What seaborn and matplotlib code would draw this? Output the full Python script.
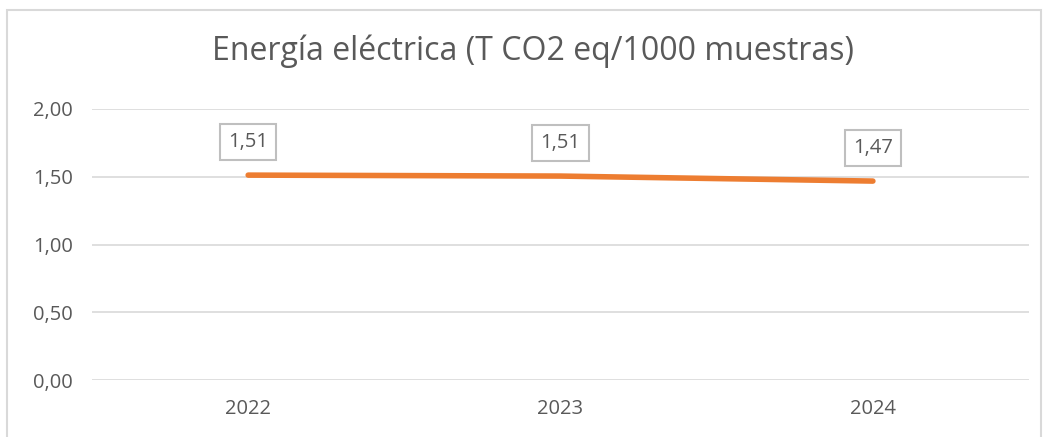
import matplotlib
matplotlib.use("Agg")
import matplotlib.pyplot as plt
import matplotlib.patches as patches
import seaborn as sns
import pandas as pd

years = ["2022", "2023", "2024"]
values = [1.512, 1.505, 1.468]
labels = ["1,51", "1,51", "1,47"]
yticks = [0.0, 0.5, 1.0, 1.5, 2.0]

sns.set_style("white")
plt.rcParams["font.family"] = ["Open Sans", "DejaVu Sans"]

df = pd.DataFrame({"year": years, "value": values})

fig = plt.figure(figsize=(10.49, 4.37), dpi=100)
ax = fig.add_axes([0.0877, 0.1304, 0.8933, 0.6202])

sns.lineplot(data=df, x="year", y="value", ax=ax, color="#ED7D31",
             linewidth=4.0, solid_capstyle="round")

ax.set_xlim(-0.5, 2.5)
ax.set_ylim(0, 2)
ax.set_yticks(yticks)
ax.set_yticklabels([f"{t:.2f}".replace(".", ",") for t in yticks])
ax.grid(axis="y", color="#D9D9D9", linewidth=1.2)
ax.set_axisbelow(True)
for s in ax.spines.values():
    s.set_visible(False)
ax.tick_params(axis="both", length=0, colors="#595959", labelsize=14.5)
ax.tick_params(axis="y", pad=14)
ax.tick_params(axis="x", pad=14)
ax.set_xlabel("")
ax.set_ylabel("")

for i, (v, lab) in enumerate(zip(values, labels)):
    ax.annotate(lab, (i, v), xytext=(0, 24), textcoords="offset points",
                ha="center", va="center", fontsize=14.5, color="#595959",
                bbox=dict(boxstyle="square,pad=0.4", fc="white", ec="#BFBFBF", lw=1.5))

fig.text(0.508, 0.882, "Energía eléctrica (T CO2 eq/1000 muestras)",
         ha="center", va="center", fontsize=23, color="#595959")

fig.patches.append(patches.Rectangle((7 / 1049, -0.05), 1034 / 1049, 1.05 - 10 / 437,
                                     transform=fig.transFigure, fill=False,
                                     ec="#D9D9D9", lw=1.5))

fig.savefig("out.png", dpi=100)
